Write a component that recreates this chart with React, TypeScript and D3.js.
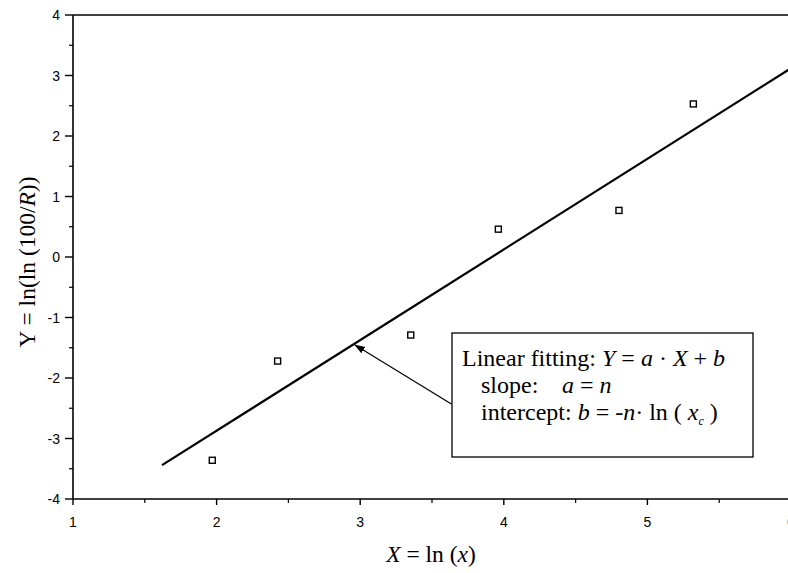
import React from 'react';
import * as d3 from 'd3';

// measured points: X = ln(x), Y = ln(ln(100/R))
const lnX = [1.97, 2.425, 3.352, 3.962, 4.802, 5.32];
const lnLnR = [-3.36, -1.72, -1.29, 0.46, 0.77, 2.53];

// fitted line end points
const fitX = [1.62, 6.0];
const fitY = [-3.44, 3.12];

const xTicks = [1, 2, 3, 4, 5, 6];
const xMinor = [1.5, 2.5, 3.5, 4.5, 5.5];
const yTicks = [-4, -3, -2, -1, 0, 1, 2, 3, 4];
const yMinor = [-3.5, -2.5, -1.5, -0.5, 0.5, 1.5, 2.5, 3.5];

// arrow: from the box to the fit line
const arrowFrom = [3.635, -2.43];
const arrowTo = [2.964, -1.455];

const W = 788;
const H = 573;
const margin = { top: 15, right: -3, bottom: 74, left: 73 };

const serif = '"Liberation Serif", "Times New Roman", serif';
const sans = '"Liberation Sans", Arial, sans-serif';

export default function App() {
  const x = d3.scaleLinear().domain([1, 6]).range([margin.left, W - margin.right]);
  const y = d3.scaleLinear().domain([-4, 4]).range([H - margin.bottom, margin.top]);

  const fitLine = d3.line<number>()
    .x(i => x(fitX[i]))
    .y(i => y(fitY[i]));

  const x0 = x(1);
  const yBottom = y(-4);
  const yTop = y(4);

  return (
    <svg
      width={W}
      height={H}
      style={{ position: 'fixed', left: 0, top: 0, background: '#fff' }}
    >
      <defs>
        <marker id="ah" viewBox="0 0 10 10" refX="9" refY="5" markerWidth="9" markerHeight="9" orient="auto">
          <path d="M0,1.5 L10,5 L0,8.5 z" fill="#000" />
        </marker>
      </defs>

      {/* frame */}
      <line x1={x0} x2={W} y1={yTop} y2={yTop} stroke="#000" strokeWidth={1.6} />
      <line x1={x0} x2={W} y1={yBottom} y2={yBottom} stroke="#000" strokeWidth={1.6} />
      <line x1={x0} x2={x0} y1={yTop} y2={yBottom} stroke="#000" strokeWidth={1.6} />

      {/* x ticks */}
      {xTicks.map(t => (
        <g key={'xt' + t}>
          <line x1={x(t)} x2={x(t)} y1={yBottom} y2={yBottom + 6} stroke="#000" strokeWidth={1.4} />
          <text x={x(t)} y={yBottom + 28} textAnchor="middle" fontFamily={sans} fontSize={14}>
            {t}
          </text>
        </g>
      ))}
      {xMinor.map(t => (
        <line key={'xm' + t} x1={x(t)} x2={x(t)} y1={yBottom} y2={yBottom + 4} stroke="#000" strokeWidth={1.2} />
      ))}

      {/* y ticks */}
      {yTicks.map(t => (
        <g key={'yt' + t}>
          <line x1={x0 - 8} x2={x0} y1={y(t)} y2={y(t)} stroke="#000" strokeWidth={1.4} />
          <text x={x0 - 13} y={y(t) + 5} textAnchor="end" fontFamily={sans} fontSize={14}>
            {t < 0 ? '-' + Math.abs(t) : t}
          </text>
        </g>
      ))}
      {yMinor.map(t => (
        <line key={'ym' + t} x1={x0 - 4} x2={x0} y1={y(t)} y2={y(t)} stroke="#000" strokeWidth={1.2} />
      ))}

      {/* fit */}
      <path d={fitLine([0, 1]) || ''} fill="none" stroke="#000" strokeWidth={2.2} />

      {/* points */}
      {lnX.map((v, i) => (
        <rect
          key={'p' + i}
          x={x(v) - 3}
          y={y(lnLnR[i]) - 3}
          width={6}
          height={6}
          fill="#fff"
          stroke="#000"
          strokeWidth={1.4}
        />
      ))}

      {/* annotation */}
      <line
        x1={x(arrowFrom[0])}
        y1={y(arrowFrom[1])}
        x2={x(arrowTo[0])}
        y2={y(arrowTo[1])}
        stroke="#000"
        strokeWidth={1.2}
        markerEnd="url(#ah)"
      />
      <rect x={452} y={333} width={301} height={124} fill="#fff" stroke="#000" strokeWidth={1.3} />
      <g fontFamily={serif} fontSize={24} fill="#000">
        <text x={462} y={366}>
          Linear fitting: <tspan fontStyle="italic">Y</tspan> = <tspan fontStyle="italic">a</tspan> · <tspan fontStyle="italic">X</tspan> + <tspan fontStyle="italic">b</tspan>
        </text>
        <text x={481} y={393}>slope:</text>
        <text x={562} y={393}>
          <tspan fontStyle="italic">a</tspan> = <tspan fontStyle="italic">n</tspan>
        </text>
        <text x={481} y={420}>
          intercept: <tspan fontStyle="italic">b</tspan> = -<tspan fontStyle="italic">n</tspan>· ln ( <tspan fontStyle="italic">x</tspan>
          <tspan fontStyle="italic" fontSize={12} dy={5}>c</tspan>
          <tspan dy={-5}> )</tspan>
        </text>
      </g>

      {/* axis titles */}
      <text x={431} y={562} textAnchor="middle" fontFamily={serif} fontSize={23.5}>
        <tspan fontStyle="italic">X</tspan> = ln (<tspan fontStyle="italic">x</tspan>)
      </text>
      <text
        transform={`translate(35, ${262}) rotate(-90)`}
        textAnchor="middle"
        fontFamily={serif}
        fontSize={23.5}
      >
        Y = ln(ln (100/<tspan fontStyle="italic">R</tspan>))
      </text>
    </svg>
  );
}
